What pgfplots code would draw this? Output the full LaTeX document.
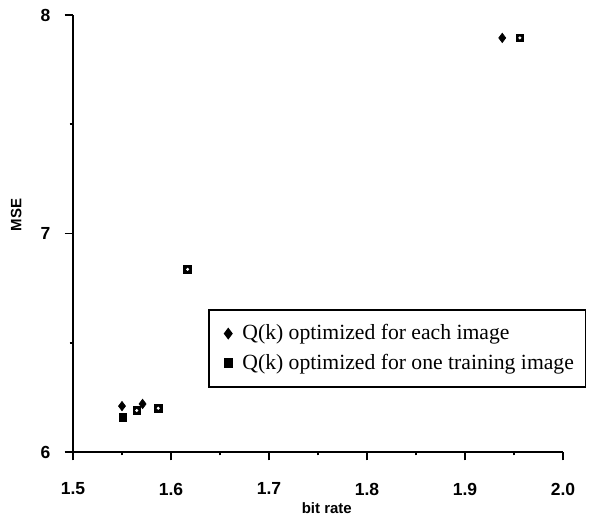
\documentclass[border=0pt]{standalone}
\usepackage{pgfplots}
\pgfplotsset{compat=1.18}
\usepackage{fontspec}
\setmainfont{Liberation Serif}
\newfontfamily\tickfont{Liberation Sans}
\pgfplotsset{mylegimg/.style={legend image code/.code={\path (0pt,0pt) (12pt,0pt); \draw[##1] plot coordinates {(6pt,0pt)};}}}
\begin{document}
\begin{tikzpicture}
\begin{axis}[
  at={(0,0)}, anchor=south west,
  scale only axis,
  width=294pt, height=262.2pt,
  xmin=1.5, xmax=2.0, ymin=6, ymax=8,
  axis lines=left,
  axis line style={-, line width=1.1pt},
  xtick={1.5,1.6,1.7,1.8,1.9,2.0},
  ytick={6,7,8},
  minor xtick={1.55,1.65,1.75,1.85,1.95},
  minor ytick={6.5,7.5},
  tick align=outside,
  major tick length=5pt,
  minor tick length=2pt,
  tick style={black, line width=1pt},
  xticklabels={1.5,1.6,1.7,1.8,1.9,2.0},
  yticklabels={6,7,8},
  xticklabel shift=10pt,
  yticklabel shift=5pt,
  xticklabel style={font=\tickfont\bfseries\fontsize{10.5}{12}\selectfont},
  yticklabel style={font=\tickfont\bfseries\fontsize{10.5}{12}\selectfont},
  xlabel={bit rate},
  ylabel={MSE},
  xlabel style={font=\tickfont\bfseries\fontsize{9}{11}\selectfont, at={(axis description cs:0.518,0)}, anchor=center, yshift=-33.6pt},
  ylabel style={font=\tickfont\bfseries\fontsize{9}{11}\selectfont, at={(axis description cs:-0.116,0.542)}, anchor=center},
  clip=false,
  mylegimg,
  legend style={at={(axis cs:1.638,6.655)}, anchor=north west, draw=black, line width=1pt,
    font=\fontsize{13}{15}\selectfont, row sep=3pt, inner xsep=5pt, inner ysep=7pt,
    nodes={inner xsep=2pt}},
  legend cell align=left,
]
\addplot[only marks, mark=diamond*, mark size=2.8pt, mark options={fill=black, draw=black}]
  coordinates {(1.550,6.21) (1.571,6.22) (1.938,7.895)};
\addlegendentry{Q(k) optimized for each image}
\addplot[only marks, mark=square*, mark size=2.3pt, mark options={fill=black, draw=black}]
  coordinates {(1.551,6.16) (1.565,6.19) (1.587,6.20) (1.617,6.836) (1.956,7.895)};
\addlegendentry{Q(k) optimized for one training image}
\addplot[only marks, mark=*, mark size=0.7pt, mark options={fill=white, draw=white}, forget plot]
  coordinates {(1.565,6.19) (1.587,6.20) (1.617,6.836) (1.956,7.895)};
\end{axis}
\path (-43.8pt,-40.8pt) rectangle (315pt,271.2pt);
\end{tikzpicture}
\end{document}
